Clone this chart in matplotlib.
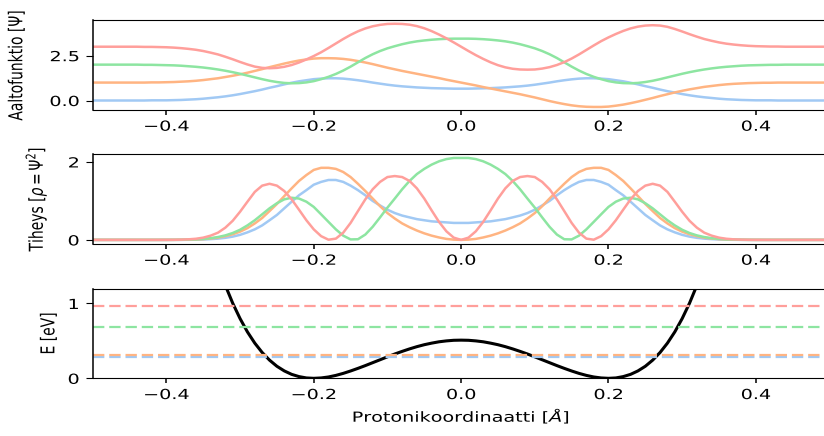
import numpy as np
import matplotlib.pyplot as plt
from matplotlib.patheffects import AbstractPathEffect
from matplotlib.transforms import Affine2D

# ---- data (right half, x = 0.00 ... 0.50, step 0.01) ----
x_half = np.round(np.arange(0, 0.501, 0.01), 2)

# ground state (even)
psi0_half = [0.66, 0.66, 0.67, 0.68, 0.69, 0.71, 0.73, 0.76, 0.79, 0.83,
             0.88, 0.94, 1.00, 1.07, 1.13, 1.18, 1.22, 1.24, 1.24, 1.22,
             1.19, 1.13, 1.07, 0.99, 0.90, 0.80, 0.71, 0.61, 0.52, 0.44,
             0.36, 0.29, 0.23, 0.18, 0.14, 0.10, 0.07, 0.05, 0.03, 0.02,
             0.01, 0.01, 0.01, 0, 0, 0, 0, 0, 0, 0, 0]
# 1st excited (odd)
psi1_half = [0.00, -0.08, -0.16, -0.25, -0.33, -0.41, -0.49, -0.57, -0.65, -0.74,
             -0.83, -0.93, -1.03, -1.12, -1.20, -1.27, -1.32, -1.35, -1.36, -1.36,
             -1.34, -1.29, -1.23, -1.15, -1.06, -0.96, -0.86, -0.75, -0.65, -0.55,
             -0.46, -0.38, -0.31, -0.24, -0.19, -0.14, -0.10, -0.07, -0.05, -0.03,
             -0.02, -0.01, -0.01, 0, 0, 0, 0, 0, 0, 0, 0]
# 2nd excited (even)
psi2_half = [1.45, 1.45, 1.44, 1.42, 1.39, 1.35, 1.30, 1.23, 1.14, 1.03,
             0.91, 0.76, 0.58, 0.37, 0.13, -0.11, -0.33, -0.52, -0.68, -0.81,
             -0.92, -0.99, -1.03, -1.04, -1.02, -0.97, -0.90, -0.81, -0.71, -0.61,
             -0.51, -0.42, -0.34, -0.27, -0.21, -0.16, -0.12, -0.09, -0.06, -0.04,
             -0.03, -0.02, -0.01, -0.01, 0, 0, 0, 0, 0, 0, 0]
# 3rd excited (odd)
psi3_half = [0.00, -0.24, -0.47, -0.68, -0.87, -1.03, -1.15, -1.23, -1.27, -1.28,
             -1.27, -1.22, -1.14, -1.02, -0.86, -0.66, -0.43, -0.18, 0.07, 0.31,
             0.52, 0.71, 0.88, 1.02, 1.12, 1.18, 1.20, 1.18, 1.11, 0.99,
             0.85, 0.70, 0.56, 0.43, 0.33, 0.24, 0.17, 0.12, 0.08, 0.05,
             0.03, 0.02, 0.01, 0.01, 0, 0, 0, 0, 0, 0, 0]

parity = [1, -1, 1, -1]
offsets = [0, 1, 2, 3]
levels = [0.28, 0.315, 0.69, 0.965]   # eV

# double-well potential (even), x = 0.00 ... 0.33
xv_half = np.round(np.arange(0, 0.331, 0.01), 2)
V_half = [0.510, 0.508, 0.500, 0.488, 0.470, 0.449, 0.423, 0.393, 0.360, 0.325,
          0.287, 0.248, 0.209, 0.170, 0.133, 0.098, 0.066, 0.039, 0.018, 0.005,
          0.000, 0.005, 0.023, 0.053, 0.099, 0.161, 0.243, 0.345, 0.470, 0.620,
          0.798, 1.004, 1.242, 1.514]

colors = ['#a1c9f4', '#ffb482', '#8de5a1', '#ff9f9b']

# full curves from the halves
x = np.r_[-x_half[:0:-1], x_half]
psis = []
for h, p in zip([psi0_half, psi1_half, psi2_half, psi3_half], parity):
    h = np.asarray(h)
    psis.append(np.r_[p * h[:0:-1], h])
xv = np.r_[-xv_half[:0:-1], xv_half]
V = np.r_[np.asarray(V_half)[:0:-1], V_half]

# the reference is stretched sideways, so stretch the text the same way
SX = 1.38


class Stretch(AbstractPathEffect):
    def __init__(self, axis='x', anchor=0.5):
        super().__init__()
        self.axis = axis
        self.anchor = anchor

    def draw_path(self, renderer, gc, tpath, affine, rgbFace=None):
        ext = tpath.get_extents()
        if self.axis == 'x':
            c = ext.x0 + self.anchor * ext.width
            pre = Affine2D().translate(-c, 0).scale(SX, 1).translate(c, 0)
        else:
            c = ext.y0 + self.anchor * ext.height
            pre = Affine2D().translate(0, -c).scale(1, SX).translate(0, c)
        renderer.draw_path(gc, tpath, pre + affine, rgbFace)


fig = plt.figure(figsize=(8.24, 4.36), dpi=100)
left, width, h = 0.1125, 0.8942, 0.206
ax1 = fig.add_axes([left, 0.7477, width, h])
ax2 = fig.add_axes([left, 0.4404, width, h])
ax3 = fig.add_axes([left, 0.1323, width, h])

# wavefunctions
for psi, off, c in zip(psis, offsets, colors):
    ax1.plot(x, psi + off, color=c, lw=1.8)
ax1.set_ylim(-0.53, 4.48)
ax1.set_yticks([0, 2.5])
ax1.set_ylabel(r'Aaltofunktio [$\Psi$]')

# densities
for psi, c in zip(psis, colors):
    ax2.plot(x, psi ** 2, color=c, lw=1.8)
ax2.set_ylim(-0.105, 2.2)
ax2.set_yticks([0, 2])
ax2.set_ylabel(r'Tiheys [$\rho = \Psi^2$]')

# potential + levels
ax3.plot(xv, V, color='k', lw=2.2)
for E, c in zip(levels, colors):
    ax3.axhline(E, color=c, ls=(0, (3.7 * SX, 1.6 * SX)), lw=1.6)
ax3.set_ylim(0, 1.2)
ax3.set_yticks([0, 1])
ax3.set_ylabel('E [eV]')
ax3.set_xlabel(r'Protonikoordinaatti [$\AA$]')

label_x = [-0.089, -0.058, -0.047]
for ax, lx in zip([ax1, ax2, ax3], label_x):
    ax.set_xlim(-0.5, 0.5)
    ax.set_xticks([-0.4, -0.2, 0.0, 0.2, 0.4])
    ax.tick_params(axis='y', length=3.5 * SX, pad=3.5 * SX)
    ax.tick_params(axis='x', width=0.8 * SX)
    ax.spines['left'].set_linewidth(0.8 * SX)
    ax.yaxis.set_label_coords(lx, 0.5)

fig.canvas.draw()
for ax in [ax1, ax2, ax3]:
    for lab in ax.get_xticklabels():
        lab.set_path_effects([Stretch('x', 0.5)])
    for lab in ax.get_yticklabels():
        lab.set_path_effects([Stretch('x', 1.0)])
    ax.yaxis.label.set_path_effects([Stretch('y', 0.0)])
ax3.xaxis.label.set_path_effects([Stretch('x', 0.5)])

fig.savefig('out.png', dpi=100)
